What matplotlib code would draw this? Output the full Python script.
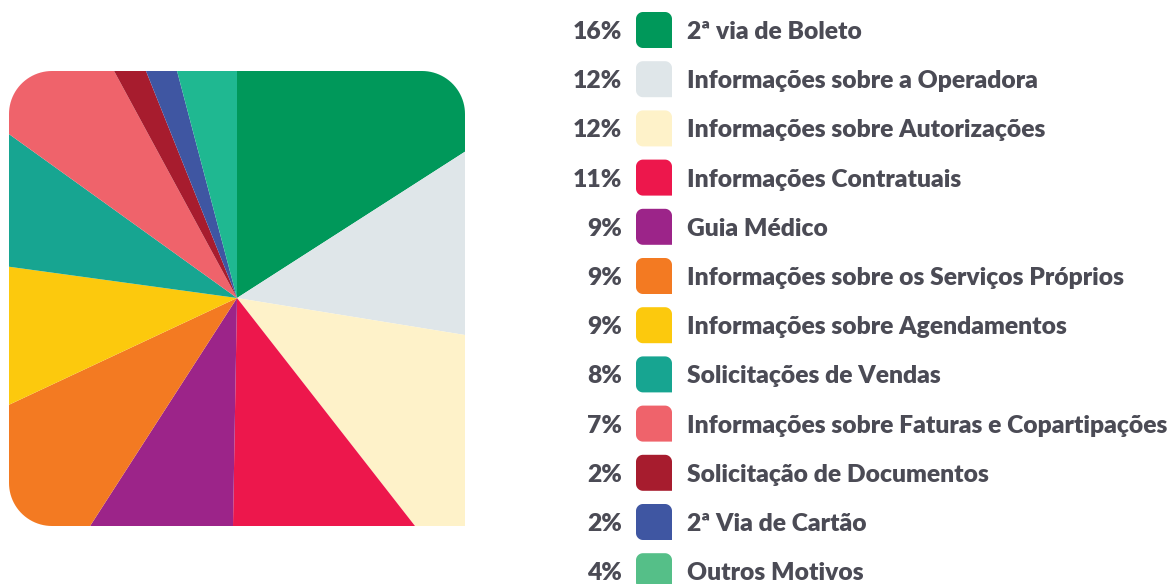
import numpy as np
import matplotlib
matplotlib.use("Agg")
import matplotlib.pyplot as plt
from matplotlib.path import Path
from matplotlib.patches import PathPatch

categories = [
    "2ª via de Boleto",
    "Informações sobre a Operadora",
    "Informações sobre Autorizações",
    "Informações Contratuais",
    "Guia Médico",
    "Informações sobre os Serviços Próprios",
    "Informações sobre Agendamentos",
    "Solicitações de Vendas",
    "Informações sobre Faturas e Copartipações",
    "Solicitação de Documentos",
    "2ª Via de Cartão",
    "Outros Motivos",
]
# percentages shown in the legend
labels_pct = [16, 12, 12, 11, 9, 9, 9, 8, 7, 2, 2, 4]
# slice shares
shares = [15.92, 11.64, 11.89, 10.83, 8.83, 8.92, 9.14, 7.75, 7.18, 1.83, 1.96, 4.11]
pie_colors = ["#00985a", "#dfe6e9", "#fef2c9", "#ed174c", "#9c2489", "#f37a22",
              "#fcc90d", "#17a591", "#ef636b", "#a71c2e", "#3f56a2", "#1fb891"]
legend_colors = pie_colors[:-1] + ["#55bf88"]
text_color = "#4b4b55"

W, H = 1171, 584
fig = plt.figure(figsize=(W / 100, H / 100), dpi=100)
ax = fig.add_axes([0, 0, 1, 1])


def rounded_shape(x0, y0, x1, y1, r):
    # rounded corners at top-left, top-right, bottom-left; bottom-right square
    def arc(cx, cy, a0, a1):
        t = np.linspace(np.radians(a0), np.radians(a1), 24)
        return list(zip(cx + r * np.cos(t), cy + r * np.sin(t)))
    verts = [(x1, y0)]
    verts += arc(x1 - r, y1 - r, 0, 90)
    verts += arc(x0 + r, y1 - r, 90, 180)
    verts += arc(x0 + r, y0 + r, 180, 270)
    verts += [(x1, y0)]
    codes = [Path.MOVETO] + [Path.LINETO] * (len(verts) - 2) + [Path.CLOSEPOLY]
    return Path(verts, codes)


# pie clipped to rounded square
sx0, sx1 = 9, 465
sy0, sy1 = H - 526, H - 71
cx, cy = 237, H - 298
wedges, _ = ax.pie(shares, colors=pie_colors, startangle=90, counterclock=False,
                   radius=420, center=(cx, cy), frame=True,
                   wedgeprops=dict(linewidth=0))
ax.set_xlim(0, W)
ax.set_ylim(0, H)
ax.set_aspect("equal")
ax.axis("off")
clip_path = rounded_shape(sx0, sy0, sx1, sy1, 43)
for w in wedges:
    w.set_clip_on(True)
    w.set_clip_path(clip_path, ax.transData)

# legend
fam = ["Lato", "DejaVu Sans"]
fs = 18
row0, step = 30, 49.2
fig.canvas.draw()
r = fig.canvas.get_renderer()
probe = ax.text(0, 0, categories[8], fontsize=fs, family=fam, fontweight="heavy")
wpx = probe.get_window_extent(r).width
probe.remove()
fs = fs * 481 / wpx

fp = dict(family=fam, fontweight="heavy", fontsize=fs, color=text_color)
for i, (cat, v, col) in enumerate(zip(categories, labels_pct, legend_colors)):
    y = H - (row0 + i * step)
    ax.add_patch(PathPatch(rounded_shape(636, y - 18, 672, y + 18, 7),
                           facecolor=col, edgecolor="none"))
    ax.text(622, y, f"{v}%", ha="right", va="center_baseline", **fp)
    ax.text(687, y, cat, ha="left", va="center_baseline", **fp)

fig.savefig("out.png", dpi=100)
